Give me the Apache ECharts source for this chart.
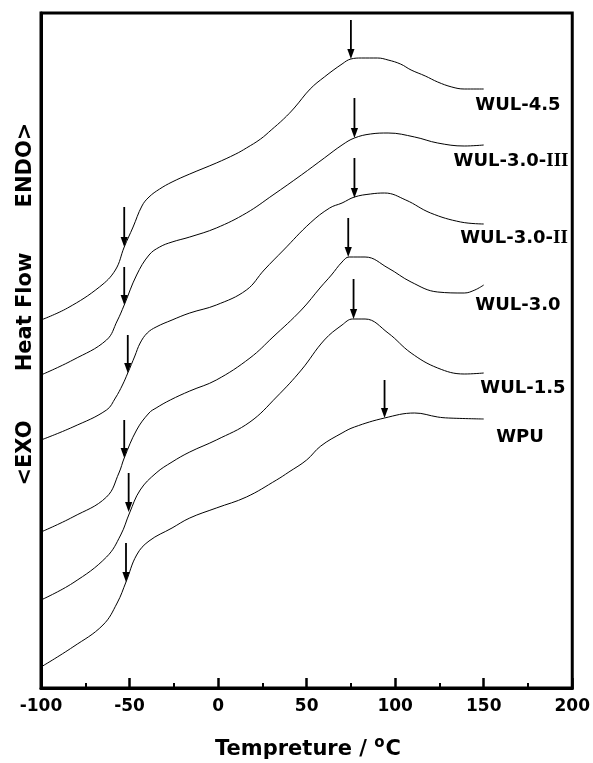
<!DOCTYPE html>
<html>
<head>
<meta charset="utf-8">
<script src="https://cdn.jsdelivr.net/npm/echarts@6/dist/echarts.min.js"></script>
<style>html,body{margin:0;padding:0;background:#fff}#c{width:593px;height:763px}</style>
</head>
<body>
<div id="c"></div>
<script>
// ---- data (temperature in °C, heat flow in arbitrary units, offset curves) ----
const xTicks = [-100, -50, 0, 50, 100, 150, 200];
const seriesNames = ['WUL-4.5', 'WUL-3.0-III', 'WUL-3.0-II', 'WUL-3.0', 'WUL-1.5', 'WPU'];

const wul45 = [[-100,368],[-85,380],[-67,401],[-58,418],[-53,441],[-48,461],[-43,482],[-39,491],[-33,499],[-26,506],[-16,514],[-1,525],[10,534],[16,540],[24,549],[30,558],[37,569],[43,580],[52,599],[60,611],[70,624],[75,629],[81,630],[90,630],[96,628],[103,624],[109,618],[117,612],[124,606],[132,601],[139,599],[150,599]];
const wul30iii = [[-100,313],[-82,328],[-63,348],[-57,367],[-53,383],[-46,413],[-39,433],[-33,441],[-26,446],[-16,451],[-1,460],[16,475],[31,493],[47,513],[60,530],[70,543],[77,550],[86,554],[96,555],[111,551],[124,545],[139,542],[150,543]];
const wul30ii = [[-100,248],[-82,261],[-63,278],[-58,290],[-54,303],[-51,315],[-47,332],[-44,345],[-40,355],[-35,361],[-26,368],[-16,375],[-1,383],[16,398],[26,418],[37,438],[52,465],[63,480],[70,485],[77,491],[86,494],[94,495],[106,488],[120,475],[137,466],[150,464]];
const wul30 = [[-100,156],[-82,171],[-63,191],[-56,215],[-53,230],[-46,258],[-39,275],[-35,280],[-27,288],[-16,297],[-1,308],[18,330],[31,351],[47,378],[58,401],[64,413],[70,426],[74,431],[83,431],[96,420],[109,406],[124,396],[139,395],[145,398],[150,403]];
const wul15 = [[-100,88],[-82,105],[-63,131],[-55,153],[-50,175],[-44,198],[-35,215],[-26,226],[-16,236],[-1,248],[18,266],[33,291],[47,318],[60,348],[70,363],[76,369],[83,369],[96,355],[109,335],[124,320],[139,314],[150,315]];
const wpu = [[-100,21],[-82,41],[-65,63],[-57,85],[-52,106],[-46,133],[-39,147],[-26,160],[-16,170],[-1,180],[16,191],[33,208],[40,216],[50,228],[58,242],[70,255],[77,261],[94,270],[111,275],[124,271],[130,270],[150,269]];
const curves = [wul45, wul30iii, wul30ii, wul30, wul15, wpu];

// arrows: [temperature, tail heat flow, tip heat flow]
const tgArrows = [[-53,481,441],[-53,421,383],[-51,353,315],[-53,268,230],[-50.5,215,176],[-52,145,106]];
const peakArrows = [[75,668,629],[77,590,550],[77,530,490],[73.5,470,431],[76.5,409,369],[94,308,270]];

const xTitleParts = ['Tempreture / ', 'o', 'C'];
const yTitleParts = ['ENDO>', 'Heat Flow', '<EXO'];

// ---- chart ----
const chart = echarts.init(document.getElementById('c'), null, {renderer: 'canvas'});
const FONT = 'DejaVu Sans';

const lineSeries = curves.map((d, i) => ({
  name: seriesNames[i],
  type: 'line',
  data: d,
  showSymbol: false,
  smooth: 0.4,
  lineStyle: {color: '#000', width: 1},
  silent: true,
  z: 3
}));

const arrowSeries = {
  type: 'custom',
  data: tgArrows.concat(peakArrows),
  encode: {x: 0, y: 1},
  silent: true,
  z: 4,
  renderItem: function (params, api) {
    const x = api.value(0), tail = api.value(1), tip = api.value(2);
    const p1 = api.coord([x, tail]);
    const p2 = api.coord([x, tip]);
    const hl = 10, hw = 3.6;
    return {
      type: 'group',
      children: [
        {type: 'line', shape: {x1: p1[0], y1: p1[1], x2: p2[0], y2: p2[1] - hl + 1},
         style: {stroke: '#000', lineWidth: 1.8}},
        {type: 'polygon', shape: {points: [[p2[0] - hw, p2[1] - hl], [p2[0] + hw, p2[1] - hl], [p2[0], p2[1]]]},
         style: {fill: '#000'}}
      ]
    };
  }
};

const labelPos = [[518,105],[511,161],[514,238],[518,305],[523,388],[520,437]];
const labelGraphics = seriesNames.map((n, i) => {
  const m = n.match(/^(.*-)(I+)$/);
  const text = m ? '{a|' + m[1] + '}{r|' + m[2] + '}' : '{a|' + n + '}';
  return {
    type: 'text',
    x: labelPos[i][0], y: labelPos[i][1],
    style: {
      text: text, align: 'center', verticalAlign: 'middle',
      rich: {
        a: {fontFamily: FONT, fontWeight: 'bold', fontSize: 18, fill: '#000'},
        r: {fontFamily: 'Liberation Serif', fontWeight: 'bold', fontSize: 19, fill: '#000'}
      }
    },
    silent: true
  };
});

const yTitleCenters = [165, 312, 453];
const yTitleGraphics = yTitleParts.map((t, i) => ({
  type: 'text', x: 26, y: yTitleCenters[i], rotation: Math.PI / 2,
  style: {text: t, align: 'center', verticalAlign: 'middle',
          font: 'bold 21px "DejaVu Sans"', fill: '#000'},
  silent: true
}));

// x-axis title with superscript "o"
const mctx = document.createElement('canvas').getContext('2d');
const mainFont = 'bold 21px "DejaVu Sans"', supFont = 'bold 15px "DejaVu Sans"';
mctx.font = mainFont;
const w0 = mctx.measureText(xTitleParts[0]).width;
const w2 = mctx.measureText(xTitleParts[2]).width;
mctx.font = supFont;
const w1 = mctx.measureText(xTitleParts[1]).width + 1;
const totalW = w0 + w1 + w2;
const tx0 = 308 - totalW / 2, ty = 750;
const xTitleGraphics = [
  {type: 'text', x: tx0, y: ty, style: {text: xTitleParts[0], font: mainFont, fill: '#000', align: 'left', verticalAlign: 'middle'}, silent: true},
  {type: 'text', x: tx0 + w0, y: ty - 7, style: {text: xTitleParts[1], font: supFont, fill: '#000', align: 'left', verticalAlign: 'middle'}, silent: true},
  {type: 'text', x: tx0 + w0 + w1, y: ty, style: {text: xTitleParts[2], font: mainFont, fill: '#000', align: 'left', verticalAlign: 'middle'}, silent: true}
];

chart.setOption({
  animation: false,
  backgroundColor: '#fff',
  grid: {left: 41, right: 18, top: 13, bottom: 75, show: true, borderColor: '#000', borderWidth: 3, backgroundColor: 'transparent'},
  xAxis: {
    type: 'value', min: xTicks[0], max: xTicks[xTicks.length - 1], interval: 50,
    axisLine: {show: true, onZero: false, lineStyle: {color: '#000', width: 3}},
    axisTick: {show: true, inside: true, length: 10, lineStyle: {color: '#000', width: 2.5}},
    minorTick: {show: true, splitNumber: 2, length: 5, lineStyle: {color: '#000', width: 2}},
    axisLabel: {color: '#000', fontFamily: FONT, fontWeight: 'bold', fontSize: 17, margin: 10},
    splitLine: {show: false}
  },
  yAxis: {
    type: 'value', min: 0, max: 675,
    axisLine: {show: true, onZero: false, lineStyle: {color: '#000', width: 3}},
    axisTick: {show: false}, axisLabel: {show: false}, splitLine: {show: false}
  },
  series: lineSeries.concat([arrowSeries]),
  graphic: labelGraphics.concat(yTitleGraphics).concat(xTitleGraphics)
});
</script>
</body>
</html>
